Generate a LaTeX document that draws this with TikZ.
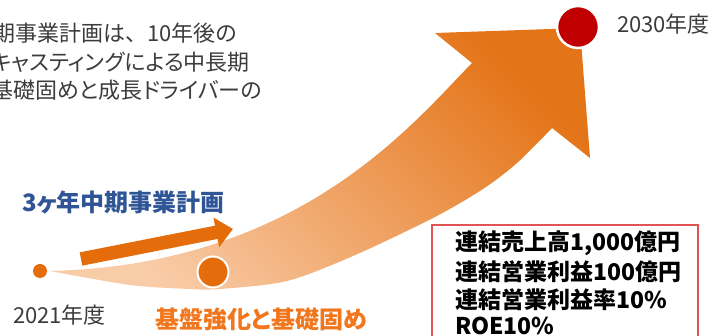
\documentclass[tikz,border=0pt]{standalone}
\usepackage{fontspec}
\newfontfamily\jp[RawFeature=+palt]{Noto Sans CJK JP}
\newfontfamily\jpfull{Noto Sans CJK JP}
\usetikzlibrary{arrows.meta}
\definecolor{bigdark}{RGB}{228,116,24}
\definecolor{bigmid}{RGB}{240,158,95}
\definecolor{biglight}{RGB}{249,204,168}
\definecolor{orangeM}{RGB}{228,108,10}
\definecolor{redC}{RGB}{192,0,0}
\definecolor{blueT}{RGB}{47,85,151}
\definecolor{orangeT}{RGB}{242,118,28}
\definecolor{grayT}{RGB}{60,60,60}
\definecolor{boxred}{RGB}{226,84,84}
\tikzset{
  txt/.style={inner sep=0pt, outer sep=0pt, text=grayT},
  graytxt/.style={txt, font=\jp\fontsize{22}{26}\selectfont},
  grayfull/.style={txt, font=\jpfull\fontsize{22}{26}\selectfont},
  yeartxt/.style={txt, font=\jp\fontsize{22}{26}\selectfont},
  boldtxt/.style={inner sep=0pt, outer sep=0pt, font=\jp\bfseries\fontsize{24}{28}\selectfont},
  boxtxt/.style={inner sep=0pt, outer sep=0pt, text=black, font=\jp\bfseries\fontsize{23}{27}\selectfont},
  dot/.style={circle, inner sep=0pt, outer sep=0pt}
}
\begin{document}
\begin{tikzpicture}[x=1pt,y=-1pt]
\useasboundingbox (0,0) rectangle (716,336);
\clip (0,0) rectangle (716,336);
\fill[white] (0,0) rectangle (716,336);
% big curved arrow
\shade[top color=bigdark, middle color=bigmid, bottom color=biglight, shading angle=-45]
  (50,271) .. controls (300,265) and (413,123) .. (472,63) -- (435,33) -- (580,28) -- (590,158) -- (552,128)
  -- plot[smooth, tension=0.5] coordinates {(552,128) (517,163) (483,189) (433,218) (353,256) (287,281) (220,289) (190,289) (130,285) (50,271)} -- cycle;
% small arrow
\coordinate (sa) at (81,259);
\coordinate (sb) at (233,229);
\draw[orangeM, line width=13.5pt, -{Triangle[width=29pt,length=17pt]}] (sa) -- (sb);
% dots
\node[dot, fill=orangeM, minimum size=14pt] (d2021) at (40,271) {};
\node[dot, fill=orangeM, draw=white, line width=2pt, minimum size=31pt] (dmid) at (213,272) {};
\node[dot, fill=redC, draw=white, line width=2.5pt, minimum size=42pt] (d2030) at (578,27) {};
% top-left text
\node[grayfull, anchor=east] (l1) at (238,33) {期事業計画は、10年後の};
\node[graytxt, anchor=east] (l2) at (250,62) {キャスティングによる中長期};
\node[graytxt, anchor=east] (l3) at (262,90) {基礎固めと成長ドライバーの};
% labels
\node[yeartxt, anchor=west] (y2030) at (617,24) {2030年度};
\node[yeartxt, anchor=west] (y2021) at (13,315) {2021年度};
\node[boldtxt, text=blueT, anchor=west] (plan) at (22,202) {3ヶ年中期事業計画};
\node[boldtxt, text=orangeT, anchor=west] (base) at (155,319) {基盤強化と基礎固め};
% target box
\draw[boxred, line width=1.2pt] (432,225) rectangle (698,360);
\node[boxtxt, anchor=west] (b1) at (455,243) {連結売上高1,000億円};
\node[boxtxt, anchor=west] (b2) at (455,272) {連結営業利益100億円};
\node[boxtxt, anchor=west] (b3) at (455,300) {連結営業利益率10\%};
\node[boxtxt, anchor=west] (b4) at (455,326) {ROE10\%};
\end{tikzpicture}
\end{document}
